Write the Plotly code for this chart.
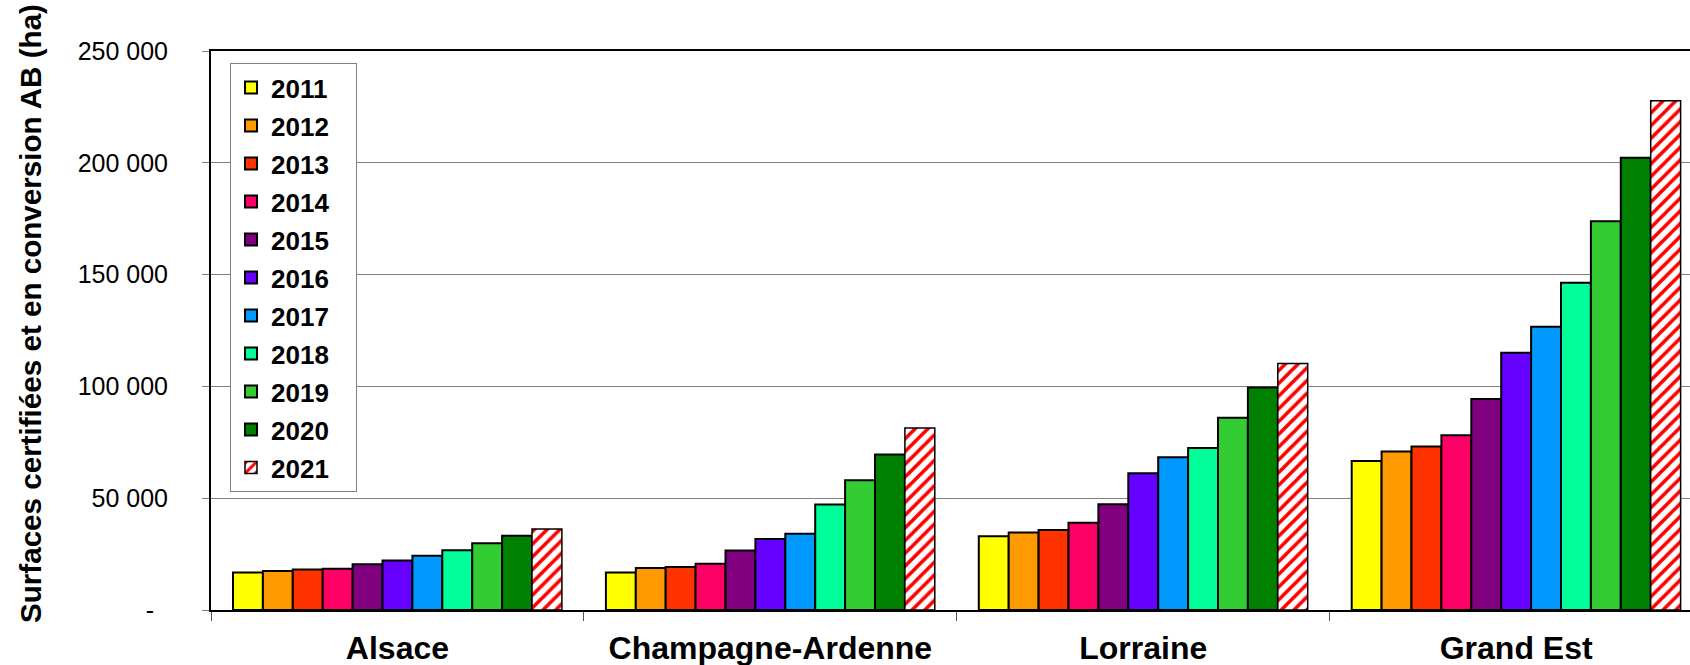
import plotly.graph_objects as go

categories = ["Alsace", "Champagne-Ardenne", "Lorraine", "Grand Est"]
years = ["2011", "2012", "2013", "2014", "2015", "2016", "2017", "2018", "2019", "2020", "2021"]

alsace = [16800, 17400, 18100, 18400, 20500, 22100, 24300, 26700, 29800, 33200, 36200]
champagne_ardenne = [16800, 18800, 19200, 20700, 26600, 31700, 34100, 47200, 58000, 69500, 81400]
lorraine = [33000, 34700, 35800, 39000, 47300, 61200, 68300, 72400, 86000, 99500, 110200]
grand_est = [66600, 70900, 73100, 78100, 94400, 115000, 126700, 146300, 173900, 202300, 227800]

colors = ["#FFFF00", "#FF9900", "#FF3300", "#FF0066", "#800080", "#6600FF",
          "#0099FF", "#00FF99", "#33CC33", "#008000", "#FFFFFF"]

tick_vals = [0, 50000, 100000, 150000, 200000, 250000]
tick_text = ["-\u00a0\u00a0", "50 000", "100 000", "150 000", "200 000", "250 000"]

FONT = "Liberation Sans, Arial, sans-serif"

W, H = 1690, 665
L, T, B = 211, 51, 55
plot_w = W - L
plot_h = H - T - B
cat_w = 372.9

fig = go.Figure()
for i, yr in enumerate(years):
    vals = [alsace[i], champagne_ardenne[i], lorraine[i], grand_est[i]]
    marker = dict(color=colors[i], line=dict(color="black", width=2))
    if yr == "2021":
        marker = dict(color="white", line=dict(color="black", width=1.5),
                      pattern=dict(shape="/", fgcolor="#FF0000", bgcolor="white",
                                   size=9, solidity=0.4, fillmode="replace"))
    fig.add_trace(go.Bar(x=categories, y=vals, name=yr + "\u00a0\u00a0\u00a0",
                         marker=marker, legendgroup=yr))

x_end = -0.5 + plot_w / cat_w

fig.update_layout(
    width=W, height=H,
    margin=dict(l=L, r=0, t=T, b=B, autoexpand=False),
    paper_bgcolor="white", plot_bgcolor="white",
    barmode="group", bargap=0.118, bargroupgap=0,
    font=dict(family=FONT, color="black"),
    showlegend=True,
    legend=dict(
        x=(230 - L) / plot_w, xanchor="left",
        y=(T + plot_h - 63) / plot_h, yanchor="top",
        bgcolor="white", bordercolor="#808080", borderwidth=1,
        font=dict(family=FONT, size=26, color="black", weight="bold"),
        traceorder="grouped", tracegroupgap=1.2,
    ),
    xaxis=dict(
        range=[-0.5, x_end], type="category", automargin=False,
        showline=True, linecolor="black", linewidth=2, mirror=True,
        ticks="outside", tickson="boundaries", ticklen=9, tickcolor="#555555", tickwidth=1,
        tickfont=dict(family=FONT, size=32, color="black", weight="bold"),
        ticklabelstandoff=9,
        showgrid=False, zeroline=False,
    ),
    yaxis=dict(
        range=[0, 250000], automargin=False,
        tickvals=tick_vals, ticktext=tick_text,
        showline=True, linecolor="black", linewidth=2,
        ticks="outside", ticklen=7, tickcolor="#808080", tickwidth=1,
        tickfont=dict(family=FONT, size=25, color="black"),
        ticklabelstandoff=29,
        showgrid=True, gridcolor="#808080", gridwidth=1,
        zeroline=False,
    ),
    annotations=[dict(
        text="Surfaces certifiées et en conversion AB (ha)",
        xref="paper", yref="paper",
        x=(30 - L) / plot_w, y=(T + plot_h - 314) / plot_h,
        xanchor="center", yanchor="middle", textangle=-90, showarrow=False,
        font=dict(family=FONT, size=29.6, color="black", weight="bold"),
    )],
)

fig.write_html("out.html",
               config={"displayModeBar": False},
               post_script="document.body.style.margin='0';document.body.style.overflow='hidden';")
